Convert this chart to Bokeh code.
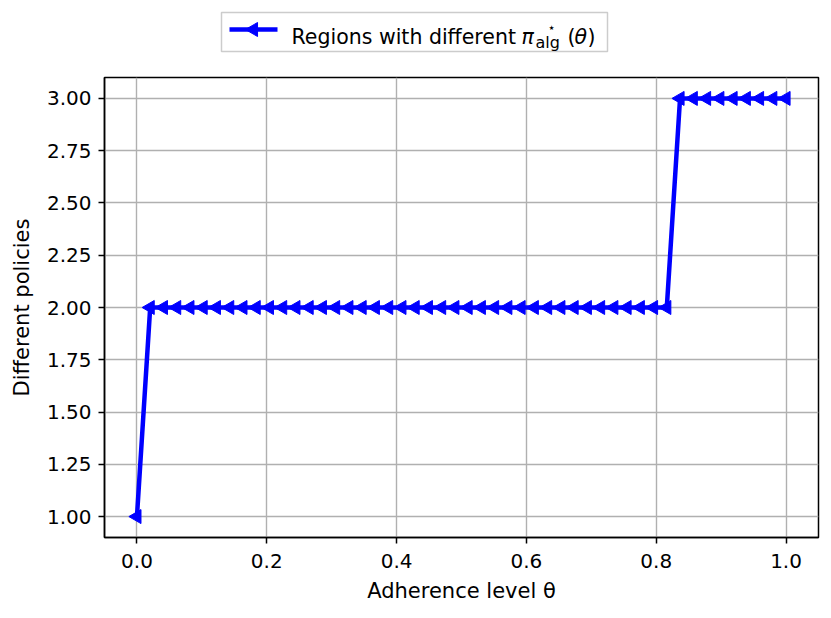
import math
from bokeh.plotting import figure
from bokeh.layouts import column
from bokeh.models import Range1d, FixedTicker
from bokeh.core.properties import value
from bokeh.embed import file_html
from bokeh.resources import INLINE

# ---- data ----
adherence = [0.0, 0.0204, 0.0408, 0.0612, 0.0816, 0.1020, 0.1224, 0.1429, 0.1633, 0.1837,
             0.2041, 0.2245, 0.2449, 0.2653, 0.2857, 0.3061, 0.3265, 0.3469, 0.3673, 0.3878,
             0.4082, 0.4286, 0.4490, 0.4694, 0.4898, 0.5102, 0.5306, 0.5510, 0.5714, 0.5918,
             0.6122, 0.6327, 0.6531, 0.6735, 0.6939, 0.7143, 0.7347, 0.7551, 0.7755, 0.7959,
             0.8163, 0.8367, 0.8571, 0.8776, 0.8980, 0.9184, 0.9388, 0.9592, 0.9796, 1.0]
policies = [1,
            2, 2, 2, 2, 2, 2, 2, 2, 2, 2,
            2, 2, 2, 2, 2, 2, 2, 2, 2, 2,
            2, 2, 2, 2, 2, 2, 2, 2, 2, 2,
            2, 2, 2, 2, 2, 2, 2, 2, 2, 2,
            3, 3, 3, 3, 3, 3, 3, 3, 3]
x_ticks = [0.0, 0.2, 0.4, 0.6, 0.8, 1.0]
x_tick_labels = ["0.0", "0.2", "0.4", "0.6", "0.8", "1.0"]
y_ticks = [1.0, 1.25, 1.5, 1.75, 2.0, 2.25, 2.5, 2.75, 3.0]
y_tick_labels = ["1.00", "1.25", "1.50", "1.75", "2.00", "2.25", "2.50", "2.75", "3.00"]

FONT = "DejaVu Sans"
BLUE = "#0000ff"
LEFT, RIGHT, FW = 104, 5, 714

# ---- legend strip (small figure above, frame aligned with main frame) ----
leg = figure(frame_width=FW, frame_height=67,
             x_range=Range1d(97, 97 + FW), y_range=Range1d(60, -7),
             output_backend="svg", toolbar_location=None,
             x_axis_type=None, y_axis_type=None,
             min_border_left=LEFT, min_border_right=RIGHT, min_border_top=0, min_border_bottom=0)
leg.outline_line_color = None
leg.xgrid.visible = False
leg.ygrid.visible = False
leg.quad(left=[214], right=[600], top=[5], bottom=[44], fill_color="white",
         line_color="#cccccc", line_width=1.5)
leg.line(x=[222, 270], y=[22, 22], line_color=BLUE, line_width=4.5)
leg.scatter(x=[246], y=[22], marker="triangle", angle=math.pi / 2, size=14,
            fill_color=BLUE, line_color=BLUE)


def ltxt(x, y, s, size="20.5px", style="normal"):
    leg.text(x=[x], y=[y], text=[s], text_font=value(FONT), text_font_style=style,
             text_font_size=size, text_color="black", text_baseline="alphabetic")


ltxt(284, 29, "Regions with different")
ltxt(514, 29, "π", style="italic")
ltxt(540, 20, "⋆", size="13px")
ltxt(528, 35, "alg", size="16px")
ltxt(560, 29, "(")
ltxt(567, 29, "θ", style="italic")
ltxt(580, 29, ")")

# ---- main figure ----
p = figure(frame_width=FW, frame_height=460,
           x_range=Range1d(-0.05, 1.05), y_range=Range1d(0.9, 3.1),
           output_backend="svg", toolbar_location=None,
           min_border_left=LEFT, min_border_right=RIGHT, min_border_top=10, min_border_bottom=72)
p.outline_line_color = "black"
p.outline_line_width = 1.5
p.background_fill_color = "white"

for ax in (p.xaxis[0], p.yaxis[0]):
    ax.axis_line_color = "black"
    ax.axis_line_width = 1.5
    ax.major_tick_line_color = "black"
    ax.major_tick_line_width = 1.5
    ax.major_tick_out = 6
    ax.major_tick_in = 0
    ax.minor_tick_line_color = None
    ax.major_label_text_font = FONT
    ax.major_label_text_font_size = "20px"
    ax.major_label_text_color = "black"
    ax.axis_label_text_font = FONT
    ax.axis_label_text_font_size = "21px"
    ax.axis_label_text_font_style = "normal"
    ax.axis_label_text_color = "black"

p.xaxis.major_label_standoff = 10
p.yaxis.major_label_standoff = 7
p.xaxis.ticker = FixedTicker(ticks=x_ticks)
p.xaxis.major_label_overrides = dict(zip(x_ticks, x_tick_labels))
p.yaxis.ticker = FixedTicker(ticks=y_ticks)
p.yaxis.major_label_overrides = dict(zip(y_ticks, y_tick_labels))
p.xaxis.axis_label = "Adherence level θ"
p.yaxis.axis_label = "Different policies"
p.xaxis.axis_label_standoff = 8
p.yaxis.axis_label_standoff = 10

p.xgrid.ticker = FixedTicker(ticks=x_ticks)
p.ygrid.ticker = FixedTicker(ticks=y_ticks)
for g in (p.xgrid[0], p.ygrid[0]):
    g.grid_line_color = "#b0b0b0"
    g.grid_line_width = 1.4
    g.grid_line_alpha = 1.0

p.line(x=adherence, y=policies, line_color=BLUE, line_width=4.5)
p.scatter(x=adherence, y=policies, marker="triangle", angle=math.pi / 2, size=14,
          fill_color=BLUE, line_color=BLUE)

layout = column(leg, p, spacing=0)
open("out.html", "w").write(file_html(layout, INLINE))
